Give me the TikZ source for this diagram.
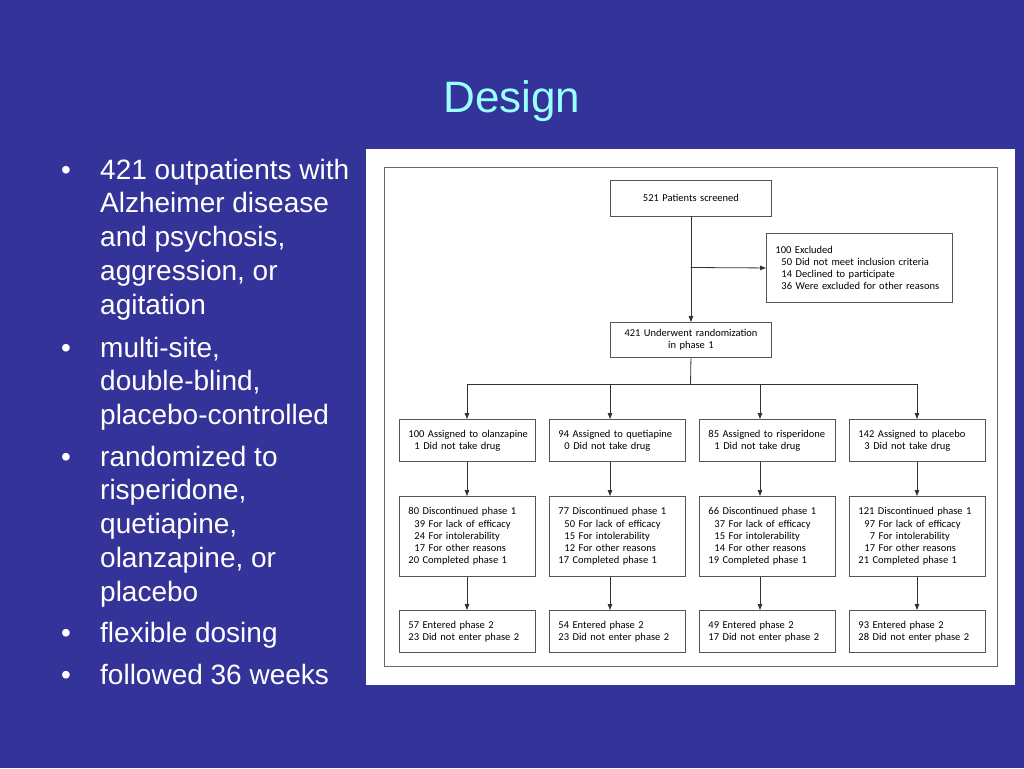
\documentclass[tikz,border=0pt]{standalone}
\usepackage{fontspec}
\setmainfont{Liberation Sans}
\newfontfamily\flowfont{Carlito}
\usetikzlibrary{arrows.meta}
\definecolor{slidebg}{HTML}{333399}
\definecolor{titlecol}{HTML}{99FFFF}
\definecolor{boxline}{HTML}{555555}
\definecolor{arrowcol}{HTML}{333333}
\definecolor{frameline}{HTML}{666666}
\begin{document}
\begin{tikzpicture}[x=1pt,y=-1pt,
  flowbox/.style={draw=boxline, line width=0.9pt, fill=white, inner xsep=9pt, inner ysep=0pt,
    align=left, anchor=north west, font=\flowfont\fontsize{10.5}{12.2}\selectfont},
  colbox/.style={flowbox, text width=118pt},
  rowa/.style={colbox, minimum height=42pt},
  rowb/.style={colbox, minimum height=80pt},
  topbox/.style={flowbox, text width=143pt, align=center},
  flowarrow/.style={draw=arrowcol, line width=0.8pt, -{Triangle[length=6pt,width=4.5pt]}},
  flowline/.style={draw=arrowcol, line width=0.8pt},
  slidetext/.style={text=white, font=\fontsize{28}{33.6}\selectfont, anchor=base west, inner sep=0pt},
  bulletmark/.style={text=white, font=\fontsize{28}{33.6}\selectfont, anchor=base west, inner sep=0pt}
]
\useasboundingbox (0,0) rectangle (1024,768);
\fill[slidebg] (0,0) rectangle (1024,768);

% title
\node[text=titlecol, font=\fontsize{44}{52}\selectfont, anchor=base, inner sep=0pt] (title) at (512,112) {Design};

% bullets
\node[bulletmark] (bu1) at (61,179) {•};
\node[slidetext] (t1a) at (100,179) {421 outpatients with};
\node[slidetext] (t1b) at (100,212.5) {Alzheimer disease};
\node[slidetext] (t1c) at (100,246.5) {and psychosis,};
\node[slidetext] (t1d) at (100,280) {aggression, or};
\node[slidetext] (t1e) at (100,314) {agitation};
\node[bulletmark] (bu2) at (61,357) {•};
\node[slidetext] (t2a) at (100,357) {multi-site,};
\node[slidetext] (t2b) at (100,390.5) {double-blind,};
\node[slidetext] (t2c) at (100,424) {placebo-controlled};
\node[bulletmark] (bu3) at (61,466) {•};
\node[slidetext] (t3a) at (100,466) {randomized to};
\node[slidetext] (t3b) at (100,499.5) {risperidone,};
\node[slidetext] (t3c) at (100,533) {quetiapine,};
\node[slidetext] (t3d) at (100,567) {olanzapine, or};
\node[slidetext] (t3e) at (100,601) {placebo};
\node[bulletmark] (bu4) at (61,642) {•};
\node[slidetext] (t4a) at (100,642) {flexible dosing};
\node[bulletmark] (bu5) at (61,684) {•};
\node[slidetext] (t5a) at (100,684) {followed 36 weeks};

% panel
\fill[white] (366,149) rectangle (1015,685);
\draw[frameline, line width=0.9pt] (384,167) rectangle (997,666);

% top boxes
\node[topbox, minimum height=35.5pt] (screened) at (610,180) {521 Patients screened};
\node[flowbox, text width=168pt, minimum height=69pt] (excl) at (766,233)
  {100 Excluded\\
   \hspace*{6pt}50 Did not meet inclusion criteria\\
   \hspace*{6pt}14 Declined to participate\\
   \hspace*{6pt}36 Were excluded for other reasons};
\node[topbox, minimum height=35pt] (rand) at (610,322) {421 Underwent randomization\\in phase 1};

% row 1
\node[rowa] (olz) at (399,419) {\mbox{100 Assigned to olanzapine}\\\hspace*{6pt}1 Did not take drug};
\node[rowa] (que) at (549,419) {\mbox{94 Assigned to quetiapine}\\\hspace*{6pt}0 Did not take drug};
\node[rowa] (ris) at (699,419) {\mbox{85 Assigned to risperidone}\\\hspace*{6pt}1 Did not take drug};
\node[rowa] (pla) at (849,419) {\mbox{142 Assigned to placebo}\\\hspace*{6pt}3 Did not take drug};

% row 2
\node[rowb] (olzd) at (399,496) {80 Discontinued phase 1\\
  \hspace*{6pt}39 For lack of efficacy\\\hspace*{6pt}24 For intolerability\\
  \hspace*{6pt}17 For other reasons\\20 Completed phase 1};
\node[rowb] (qued) at (549,496) {77 Discontinued phase 1\\
  \hspace*{6pt}50 For lack of efficacy\\\hspace*{6pt}15 For intolerability\\
  \hspace*{6pt}12 For other reasons\\17 Completed phase 1};
\node[rowb] (risd) at (699,496) {66 Discontinued phase 1\\
  \hspace*{6pt}37 For lack of efficacy\\\hspace*{6pt}15 For intolerability\\
  \hspace*{6pt}14 For other reasons\\19 Completed phase 1};
\node[rowb] (plad) at (849,496) {\mbox{121 Discontinued phase 1}\\
  \hspace*{6pt}97 For lack of efficacy\\\hspace*{6pt}\hphantom{0}7 For intolerability\\
  \hspace*{6pt}17 For other reasons\\21 Completed phase 1};

% row 3
\node[rowa] (olzp) at (399,610) {57 Entered phase 2\\23 Did not enter phase 2};
\node[rowa] (quep) at (549,610) {54 Entered phase 2\\23 Did not enter phase 2};
\node[rowa] (risp) at (699,610) {49 Entered phase 2\\17 Did not enter phase 2};
\node[rowa] (plap) at (849,610) {93 Entered phase 2\\28 Did not enter phase 2};

% connectors
\draw[flowarrow] (screened.south) -- (rand.north);
\coordinate (exj) at (690.5,267.5);
\draw[flowarrow] (exj) -- (excl.west);
\coordinate (br) at (690.5,384);
\coordinate (b1) at (467,384);
\coordinate (b2) at (610,384);
\coordinate (b3) at (760,384);
\coordinate (b4) at (917,384);
\draw[flowline] (rand.south) -- (br);
\draw[flowline] (b1) -- (b4);
\draw[flowarrow] (b1) -- (b1 |- olz.north);
\draw[flowarrow] (b2) -- (b2 |- que.north);
\draw[flowarrow] (b3) -- (b3 |- ris.north);
\draw[flowarrow] (b4) -- (b4 |- pla.north);
\draw[flowarrow] (b1 |- olz.south) -- (b1 |- olzd.north);
\draw[flowarrow] (b2 |- que.south) -- (b2 |- qued.north);
\draw[flowarrow] (b3 |- ris.south) -- (b3 |- risd.north);
\draw[flowarrow] (b4 |- pla.south) -- (b4 |- plad.north);
\draw[flowarrow] (b1 |- olzd.south) -- (b1 |- olzp.north);
\draw[flowarrow] (b2 |- qued.south) -- (b2 |- quep.north);
\draw[flowarrow] (b3 |- risd.south) -- (b3 |- risp.north);
\draw[flowarrow] (b4 |- plad.south) -- (b4 |- plap.north);
\end{tikzpicture}
\end{document}
